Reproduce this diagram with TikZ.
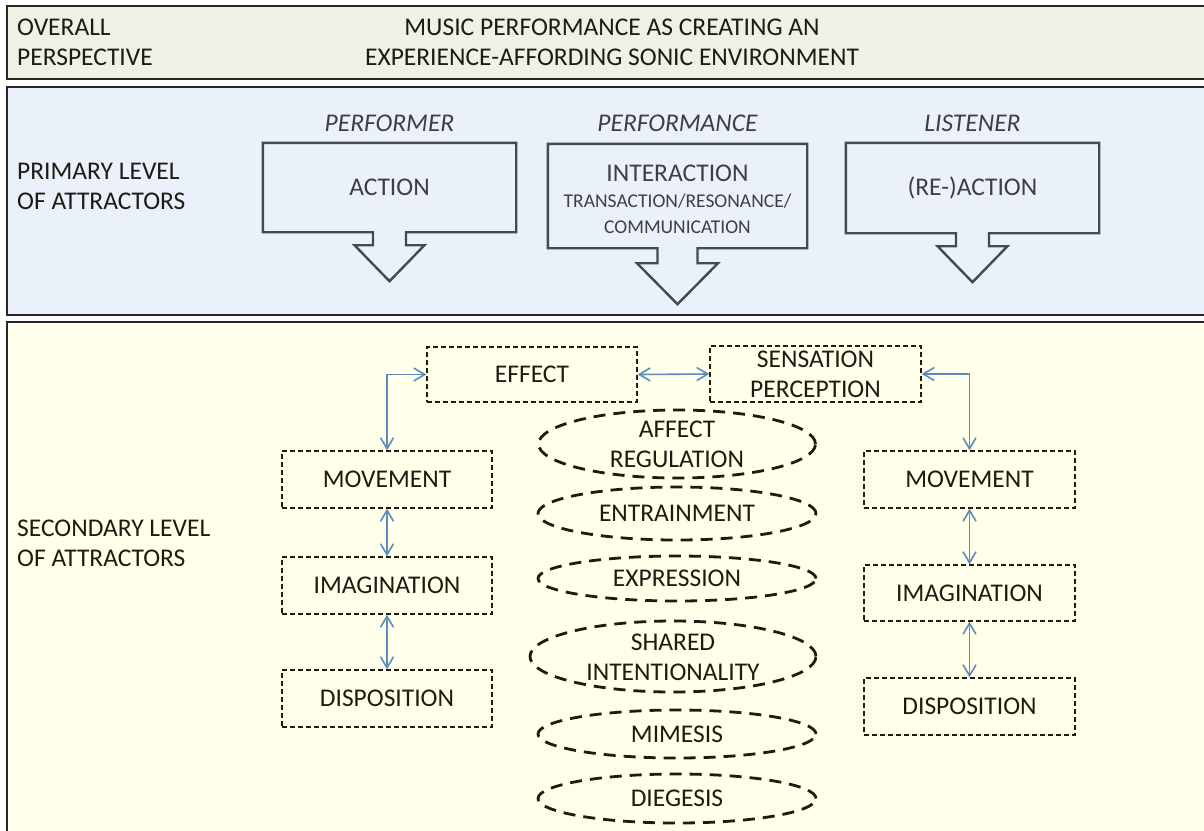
\documentclass[tikz,border=0pt]{standalone}
\usepackage{fontspec}
\setmainfont{Carlito}
\usetikzlibrary{arrows.meta,shapes.geometric,calc}

\definecolor{bandA}{HTML}{EEF2E4}
\definecolor{bandB}{HTML}{EAF1FA}
\definecolor{bandC}{HTML}{FFFFEA}
\definecolor{calloutgray}{HTML}{434A54}
\definecolor{labelgray}{HTML}{3F3F3F}
\definecolor{inkdark}{HTML}{1C1C14}
\definecolor{linkblue}{HTML}{5B8DBE}

\tikzset{
  band/.style={draw=black!85, line width=1.6},
  bigtext/.style={font=\fontsize{25.5}{30}\selectfont, inner sep=0},
  sidelabel/.style={bigtext, anchor=west, align=left, text=inkdark},
  rolelabel/.style={bigtext, font=\fontsize{25.5}{30}\selectfont\itshape, text=labelgray},
  calloutbox/.style={bigtext, align=center, text=labelgray, inner sep=0},
  calloutline/.style={draw=calloutgray, line width=2.4, line join=miter},
  dashbox/.style={draw=inkdark, dash pattern=on 5 off 3, line width=1.4,
    bigtext, align=center, text=inkdark, inner sep=0},
  oval/.style={ellipse, draw=inkdark, dash pattern=on 12 off 8, line width=2.8, inner sep=0},
  ovaltext/.style={bigtext, align=center, text=inkdark},
  link/.style={draw=linkblue, line width=1.6, {Straight Barb[length=11,width=13]}-{Straight Barb[length=11,width=13]}}
}

% outline of a box with a down-pointing arrow below it
% #1 node, #2 shaft half width, #3 shaft length, #4 head half width, #5 head length
\newcommand\calloutoutline[5]{%
  \draw[calloutline] (#1.north west) -- (#1.north east) -- (#1.south east)
    -- ([xshift=#2]#1.south) -- ([xshift=#2,yshift=-#3]#1.south)
    -- ([xshift=#4,yshift=-#3]#1.south) -- ([yshift={-(#3+#5)}]#1.south)
    -- ([xshift=-#4,yshift=-#3]#1.south) -- ([xshift=-#2,yshift=-#3]#1.south)
    -- ([xshift=-#2]#1.south) -- (#1.south west) -- cycle;}

\begin{document}
\begin{tikzpicture}[x=1pt,y=-1pt]
\useasboundingbox (0,0) rectangle (1204,830);
\clip (0,0) rectangle (1204,830);

% three horizontal bands
\fill[white] (0,0) rectangle (1204,830);
\draw[band, fill=bandA] (7,6) rectangle (1215,79);
\draw[band, fill=bandB] (7,87) rectangle (1215,315);
\draw[band, fill=bandC] (7,322) rectangle (1215,845);

% band headings
\node[sidelabel] (hOverall) at (17,42) {OVERALL\\PERSPECTIVE};
\node[bigtext, align=center, text=inkdark] (title) at (612,42)
  {MUSIC PERFORMANCE AS CREATING AN\\EXPERIENCE-AFFORDING SONIC ENVIRONMENT};
\node[sidelabel] (hPrimary) at (17,186) {PRIMARY LEVEL\\OF ATTRACTORS};
\node[sidelabel] (hSecondary) at (17,543) {SECONDARY LEVEL\\OF ATTRACTORS};

% primary attractors
\node[rolelabel] (rPerformer) at (389.5,123) {PERFORMER};
\node[rolelabel] (rPerformance) at (677.5,123) {PERFORMANCE};
\node[rolelabel] (rListener) at (972.5,123) {LISTENER};

\node[calloutbox, minimum width=253, minimum height=89] (action) at (389.5,187.5) {ACTION};
\calloutoutline{action}{16.5}{13}{35}{36}

\node[calloutbox, minimum width=259, minimum height=104] (interaction) at (677.5,196) {};
\node[calloutbox] (interactionText) at (677.5,199)
  {INTERACTION\\[-4pt]{\fontsize{19.5}{25}\selectfont TRANSACTION/RESONANCE/}\\[-4pt]{\fontsize{19.5}{25}\selectfont COMMUNICATION}};
\calloutoutline{interaction}{20}{15}{40.5}{41}

\node[calloutbox, minimum width=253, minimum height=90] (reaction) at (972.5,188) {(RE-)ACTION};
\calloutoutline{reaction}{16.5}{13}{35}{36}

% secondary attractors: boxes
\node[dashbox, minimum width=210, minimum height=55] (effect) at (532,374.5) {EFFECT};
\node[dashbox, minimum width=211, minimum height=56] (sensation) at (815.5,374) {SENSATION\\PERCEPTION};

\node[dashbox, minimum width=210, minimum height=57] (lMove) at (387,479.5) {MOVEMENT};
\node[dashbox, minimum width=210, minimum height=57] (lImag) at (387,585.5) {IMAGINATION};
\node[dashbox, minimum width=210, minimum height=57] (lDisp) at (387,698.5) {DISPOSITION};

\node[dashbox, minimum width=211, minimum height=57] (rMove) at (969.5,479.5) {MOVEMENT};
\node[dashbox, minimum width=211, minimum height=56] (rImag) at (969.5,593) {IMAGINATION};
\node[dashbox, minimum width=211, minimum height=57] (rDisp) at (969.5,706.5) {DISPOSITION};

% secondary attractors: mechanisms
\node[oval, minimum width=277, minimum height=68] (oAffect) at (677,444) {};
\node[ovaltext] at (oAffect) {AFFECT\\REGULATION};
\node[oval, minimum width=278, minimum height=53] (oEntrain) at (677,513.5) {};
\node[ovaltext] at (oEntrain) {ENTRAINMENT};
\node[oval, minimum width=278, minimum height=45] (oExpr) at (677,578.5) {};
\node[ovaltext] at (oExpr) {EXPRESSION};
\node[oval, minimum width=286, minimum height=71] (oShared) at (673,656.5) {};
\node[ovaltext] at ([yshift=-1]oShared) {SHARED\\INTENTIONALITY};
\node[oval, minimum width=278, minimum height=48] (oMimesis) at (677,734) {};
\node[ovaltext] at (oMimesis) {MIMESIS};
\node[oval, minimum width=278, minimum height=49] (oDiegesis) at (677,798.5) {};
\node[ovaltext] at (oDiegesis) {DIEGESIS};

% links
\draw[link] (effect.east) -- (sensation.west);
\draw[link] (effect.west) -| (lMove.north);
\draw[link] (sensation.east) -| (rMove.north);
\draw[link] (lMove.south) -- (lImag.north);
\draw[link] (lImag.south) -- (lDisp.north);
\draw[link] (rMove.south) -- (rImag.north);
\draw[link] (rImag.south) -- (rDisp.north);
\end{tikzpicture}
\end{document}
